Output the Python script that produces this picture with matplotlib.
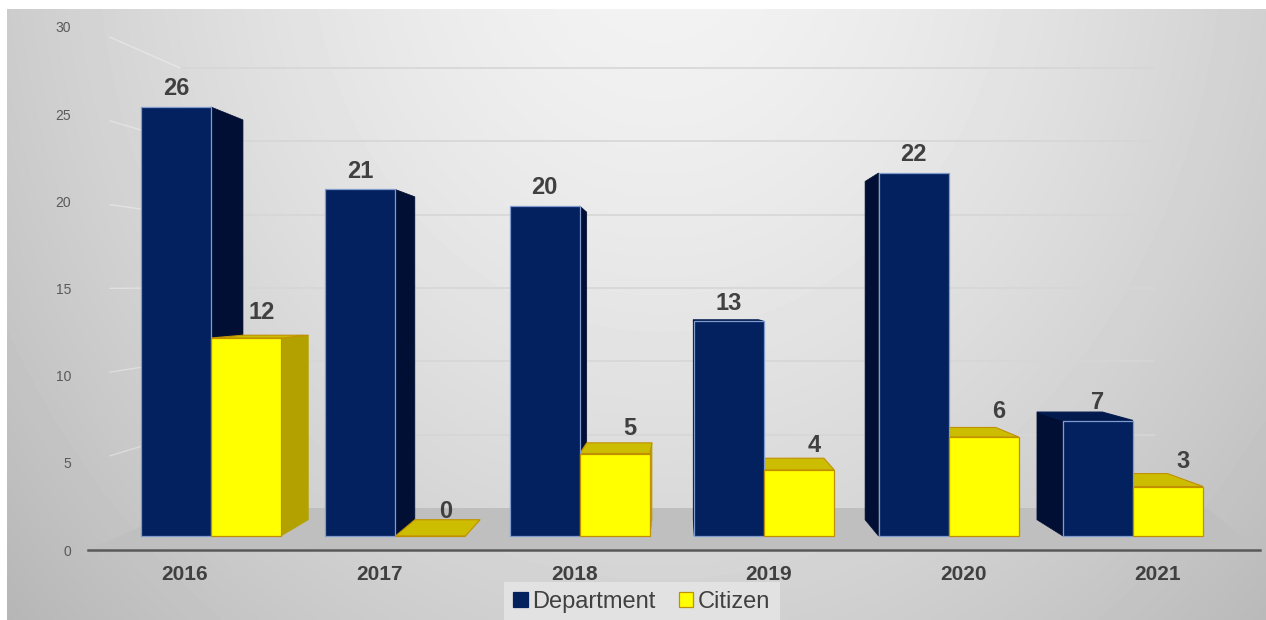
# 3D-looking clustered columns: Department vs Citizen, 2016-2021
import numpy as np
import matplotlib
matplotlib.use('Agg')
import matplotlib.pyplot as plt
from matplotlib.patches import Polygon

plt.rcParams['font.family'] = ['Liberation Sans', 'DejaVu Sans']

years = ['2016', '2017', '2018', '2019', '2020', '2021']
department = [26, 21, 20, 13, 22, 7]
citizen = [12, 0, 5, 4, 6, 3]
y_ticks = [0, 5, 10, 15, 20, 25, 30]
series_names = ['Department', 'Citizen']

W, H = 1266, 620

# colours: front, side, top, edge
dept_col = ('#03215e', '#000f33', '#021a4e', '#7f9bd0')
cit_col = ('#ffff00', '#b3a100', '#cdbd00', '#c09000')
text_col = '#404040'

fig = plt.figure(figsize=(W / 100, H / 100), dpi=100)
fig.patch.set_facecolor('white')


def px_rect(l, t, r, b):
    return [l / W, 1 - b / H, (r - l) / W, (b - t) / H]


# background gradient (chart area)
ax_bg = fig.add_axes([0, 0, 1, 1], zorder=0)
ax_bg.set_xlim(0, W)
ax_bg.set_ylim(H, 0)
ax_bg.axis('off')
gx, gy = np.meshgrid(np.linspace(7, W, 400), np.linspace(9, H, 200))
r = np.sqrt(((gx - 660) / 700) ** 2 + ((gy + 80) / 820) ** 2)
shade = 0.955 - 0.17 * r ** 1.5
ax_bg.imshow(shade, cmap='gray', vmin=0, vmax=1, extent=(7, W, H, 9),
             aspect='auto', interpolation='bilinear')

rect = px_rect(88, 27, 1260, 550)

# back wall + floor (x in pixel-like units, y in wall units)
wall_zero, wall_px = 508, 14.67
ax_wall = fig.add_axes(rect, zorder=1)
ax_wall.set_facecolor('none')
ax_wall.set_xlim(88, 1260)
ax_wall.set_ylim((wall_zero - 550) / wall_px, (wall_zero - 27) / wall_px)
ax_wall.axis('off')
floor_front = (wall_zero - 550) / wall_px
ax_wall.add_patch(Polygon([(88, floor_front), (183, 0), (1207, 0), (1258, floor_front)],
                          closed=True, facecolor='#bfbfbf', edgecolor='none'))
ax_wall.hlines(y_ticks[1:], 180, 1155, color='#d6d6d6', lw=1.2)

# front axis: y tick labels, year labels, axis line
ax = fig.add_axes(rect, zorder=2)
ax.set_facecolor('none')
ax.set_ylim(0, 30)
ax.set_xlim(-0.4985, 5.524)
ax.set_yticks(y_ticks)
ax.set_yticklabels([str(v) for v in y_ticks], fontsize=10, color='#595959')
ax.set_xticks(range(len(years)))
ax.set_xticklabels(years, fontsize=15, fontweight='bold', color=text_col)
ax.tick_params(axis='y', length=0, pad=12)
ax.tick_params(axis='x', length=0, pad=11)
for sp in ['top', 'right', 'left']:
    ax.spines[sp].set_visible(False)
ax.spines['bottom'].set_color('#595959')
ax.spines['bottom'].set_linewidth(1.8)

# faint side-wall lines from tick labels to back wall
to_wall = ax_wall.transData.inverted()
for v in y_ticks[1:]:
    _, yd = ax.transData.transform((0, v))
    _, yw = to_wall.transform((0, yd))
    ax_wall.plot([110, 180], [yw - (yw - v) * 0.25, v], color='white', lw=1, alpha=0.35)

# bars
ax_bars = fig.add_axes(rect, zorder=3)
ax_bars.set_facecolor('none')
ax_bars.set_xlim(-123 / 184.4, 1049 / 184.4)
ax_bars.set_ylim(-14 / 16.5, 509 / 16.5)
ax_bars.axis('off')

w = 0.38
depth, vx, vy = 0.068, 2.549, 14.5


def back(x, y):
    return x + depth * (vx - x), y + depth * (vy - y)


handles = []
for s, (vals, col) in enumerate([(department, dept_col), (citizen, cit_col)]):
    lefts = [i - w + s * w for i in range(len(vals))]
    for xl, h in zip(lefts, vals):
        xr = xl + w
        z = 2 + 0.5 * s
        edge = None
        if xr < vx:
            edge = xr
        elif xl > vx:
            edge = xl
        if edge is not None and h > 0:
            ex, eh = back(edge, h)
            _, e0 = back(edge, 0)
            ax_bars.add_patch(Polygon([(edge, 0), (edge, h), (ex, eh), (ex, e0)],
                                      closed=True, facecolor=col[1],
                                      edgecolor=col[1], lw=0.5, zorder=z))
        if h < vy:
            bxl, bh = back(xl, h)
            bxr, _ = back(xr, h)
            ax_bars.add_patch(Polygon([(xl, h), (xr, h), (bxr, bh), (bxl, bh)],
                                      closed=True, facecolor=col[2],
                                      edgecolor=col[3] if s else col[2], lw=0.8, zorder=z))
    b = ax_bars.bar(lefts, vals, width=w, align='edge', color=col[0],
                    edgecolor=col[3], lw=0.9, zorder=3, label=series_names[s])
    handles.append(b)

# value labels
for i, h in enumerate(department):
    ax_bars.annotate(str(h), (i - w / 2, h), xytext=(0, 13), textcoords='offset points',
                     ha='center', va='center', fontsize=17, fontweight='bold',
                     color=text_col, zorder=5)
for i, h in enumerate(citizen):
    ax_bars.annotate(str(h), (i + w / 2, h), xytext=(11, 18), textcoords='offset points',
                     ha='center', va='center', fontsize=17, fontweight='bold',
                     color=text_col, zorder=5)

leg = fig.legend(handles=handles, labels=series_names, loc='center',
                 bbox_to_anchor=(642 / W, 1 - 602 / H), ncol=2, fontsize=17,
                 frameon=True, facecolor='#e2e2e2', edgecolor='none', framealpha=1,
                 fancybox=False, handlelength=0.6, handleheight=0.6,
                 handletextpad=0.2, columnspacing=1.0, borderpad=0.25,
                 borderaxespad=0)
leg.get_frame().set_boxstyle('square', pad=0.15)
for txt in leg.get_texts():
    txt.set_color(text_col)
leg.legend_handles[0].set_edgecolor(dept_col[0])

fig.savefig('out.png', dpi=100)
